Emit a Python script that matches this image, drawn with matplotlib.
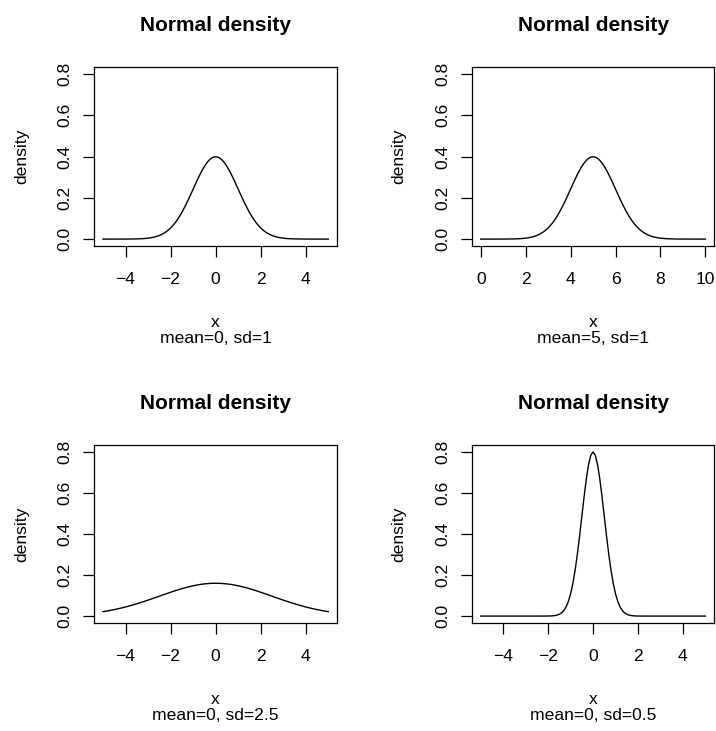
import matplotlib.pyplot as plt
import numpy as np

plt.rcParams['font.family'] = ['Liberation Sans', 'DejaVu Sans']

# parameters of each panel (mean, sd, plotted range)
means = [0, 5, 0, 0]
sds = [1, 1, 2.5, 0.5]
x_from = [-5, 0, -5, -5]
x_to = [5, 10, 5, 5]
x_ticks = [[-4, -2, 0, 2, 4], [0, 2, 4, 6, 8, 10], [-4, -2, 0, 2, 4], [-4, -2, 0, 2, 4]]
y_ticks = [0.0, 0.2, 0.4, 0.6, 0.8]
y_tick_labels = ['0.0', '0.2', '0.4', '0.6', '0.8']


def dnorm(x, mean, sd):
    return np.exp(-0.5 * ((x - mean) / sd) ** 2) / (sd * np.sqrt(2 * np.pi))


fig = plt.figure(figsize=(7.16, 7.31), dpi=100)

# axes boxes in figure fractions: [left, bottom, width, height]
boxes = [
    [0.1313, 0.6639, 0.3398, 0.2440],
    [0.6588, 0.6639, 0.3390, 0.2440],
    [0.1313, 0.1482, 0.3398, 0.2431],
    [0.6588, 0.1482, 0.3390, 0.2431],
]

fs = 12.6
for i in range(4):
    ax = fig.add_axes(boxes[i])
    xs = np.linspace(x_from[i], x_to[i], 101)
    ax.plot(xs, dnorm(xs, means[i], sds[i]), color='black', lw=1.0)

    # R style 4% padding around the data range
    span = x_to[i] - x_from[i]
    ax.set_xlim(x_from[i] - 0.04 * span, x_to[i] + 0.04 * span)
    ax.set_ylim(-0.032, 0.832)

    ax.set_xticks(x_ticks[i])
    ax.set_yticks(y_ticks)
    ax.set_yticklabels(y_tick_labels, rotation=90, va='center')
    ax.tick_params(axis='both', length=7.9, width=0.9, labelsize=fs, color='black')
    ax.tick_params(axis='x', pad=11.0)
    ax.tick_params(axis='y', pad=7.5)
    for sp in ax.spines.values():
        sp.set_linewidth(0.9)

    ax.annotate('Normal density', xy=(0.5, 1), xycoords='axes fraction',
                xytext=(0, 26.0), textcoords='offset points',
                ha='center', va='baseline', fontsize=15.0, fontweight='bold')
    ax.annotate('x', xy=(0.5, 0), xycoords='axes fraction',
                xytext=(0, -58.8), textcoords='offset points',
                ha='center', va='baseline', fontsize=fs)
    ax.annotate('mean=%g, sd=%g' % (means[i], sds[i]), xy=(0.5, 0),
                xycoords='axes fraction', xytext=(0, -70.3),
                textcoords='offset points', ha='center', va='baseline', fontsize=fs)
    ax.annotate('density', xy=(0, 0.5), xycoords='axes fraction',
                xytext=(-49.0, 0), textcoords='offset points',
                ha='center', va='baseline', rotation=90,
                rotation_mode='anchor', fontsize=fs)

fig.savefig('out.png', dpi=100)
